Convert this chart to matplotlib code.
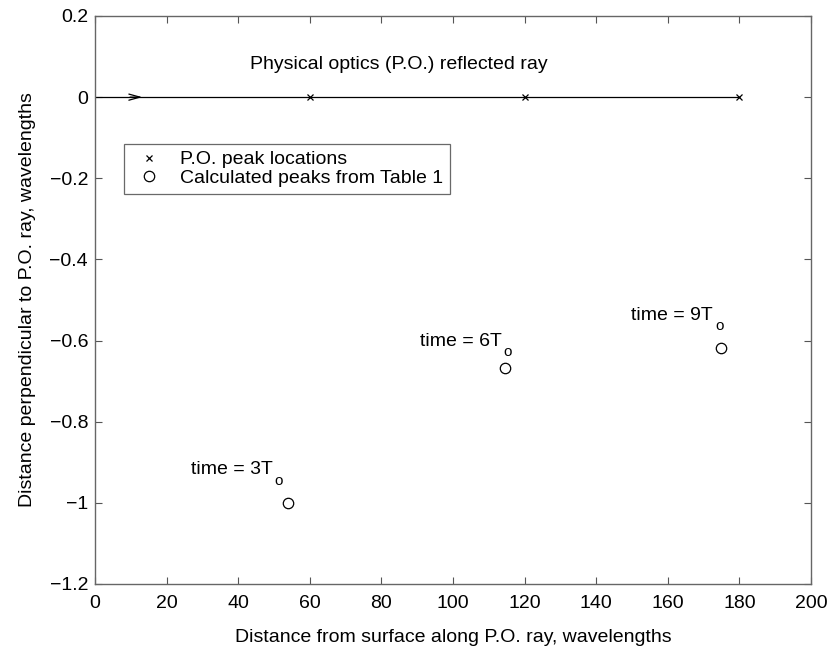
import matplotlib
matplotlib.use("Agg")
import matplotlib.pyplot as plt

plt.rcParams['font.family'] = ['Liberation Sans', 'DejaVu Sans']

# Data
po_x = [60, 120, 180]
po_y = [0, 0, 0]
calc_x = [53.8, 114.5, 174.8]
calc_y = [-1.0, -0.667, -0.619]
time_labels = ["time = 3T", "time = 6T", "time = 9T"]
ray_x = [0, 180]
ray_y = [0, 0]
xticks = [0, 20, 40, 60, 80, 100, 120, 140, 160, 180, 200]
yticks = [0.2, 0, -0.2, -0.4, -0.6, -0.8, -1, -1.2]

FS = 14
W, H = 835, 649
fig = plt.figure(figsize=(W / 100, H / 100), dpi=100)
L, R, T, B = 95, 811, 16, 584
ax = fig.add_axes([L / W, 1 - B / H, (R - L) / W, (B - T) / H])

ax.plot(ray_x, ray_y, color='black', lw=0.9)
ax.annotate('', xy=(14, 0), xytext=(9, 0),
            arrowprops=dict(arrowstyle='->,head_length=0.8,head_width=0.22', color='black', lw=0.9))
ax.plot(po_x, po_y, linestyle='none', marker='x', color='black', ms=5, mew=0.9,
        label='P.O. peak locations')
ax.plot(calc_x, calc_y, linestyle='none', marker='o', mfc='none', mec='black', ms=7.5, mew=0.9,
        label='Calculated peaks from Table 1')

# label offsets in pixels relative to circles (text right edge, vertical center)
txt_off = [(-15, 33), (-3, 26), (-8, 33)]
sub_off = [(-9, 22), (3, 16), (-1, 22)]
for x, y, t, (tx, ty), (sx, sy) in zip(calc_x, calc_y, time_labels, txt_off, sub_off):
    ax.annotate(t, xy=(x, y), xytext=(tx * 0.72, ty * 0.72), textcoords='offset points',
                ha='right', va='center', fontsize=FS)
    ax.annotate('o', xy=(x, y), xytext=(sx * 0.72, sy * 0.72), textcoords='offset points',
                ha='center', va='center', fontsize=11)

ax.text(43.3, 0.081, 'Physical optics (P.O.) reflected ray', fontsize=FS, ha='left', va='center')

ax.set_xlim(0, 200)
ax.set_ylim(-1.2, 0.2)
ax.set_xticks(xticks)
ax.set_yticks(yticks)
ax.set_xticklabels([str(v) for v in xticks])
ax.set_yticklabels(['0.2', '0', '\u22120.2', '\u22120.4', '\u22120.6', '\u22120.8', '\u22121', '\u22121.2'])
ax.tick_params(direction='in', length=5, top=True, right=True, labelsize=FS, color='#555555',
               width=0.8)
ax.tick_params(axis='x', pad=8)
ax.tick_params(axis='y', pad=5)
for s in ax.spines.values():
    s.set_color('#666666')
    s.set_linewidth(1.0)

ax.set_xlabel('Distance from surface along P.O. ray, wavelengths', fontsize=FS, labelpad=12)
ax.set_ylabel('Distance perpendicular to P.O. ray, wavelengths', fontsize=FS, labelpad=10)

leg = ax.legend(loc='upper left', bbox_to_anchor=((124 - L) / (R - L), 1 - (144 - T) / (B - T)),
                frameon=True, fancybox=False, fontsize=FS, borderpad=0.35, handlelength=1.85,
                handletextpad=0.67, labelspacing=0.05, borderaxespad=0)
leg.get_frame().set_edgecolor('#444444')
leg.get_frame().set_linewidth(0.9)

fig.savefig('out.png', dpi=100)
